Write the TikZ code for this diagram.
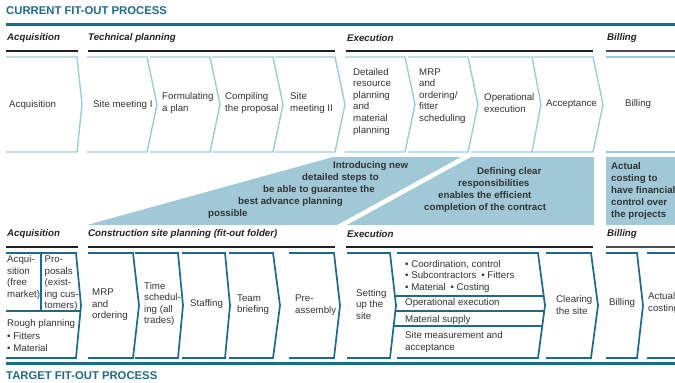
\documentclass[tikz,border=0pt]{standalone}
\usepackage{fontspec}
\setmainfont{Liberation Sans}
\definecolor{tealdark}{HTML}{1F6A87}
\definecolor{bandblue}{HTML}{A0C8D6}
\definecolor{chevlight}{HTML}{9CCCDC}
\definecolor{txtgray}{HTML}{333333}
\definecolor{hdrgray}{HTML}{222222}
\definecolor{billgray}{HTML}{4D4D4D}
\tikzset{
  txt/.style={anchor=west, inner sep=0pt, align=left, text=txtgray, font=\fontsize{9.7}{11.6}\selectfont},
  hdr/.style={anchor=west, inner sep=0pt, text=hdrgray, font=\fontsize{9.7}{11.6}\selectfont\bfseries\itshape},
  bandtxt/.style={anchor=west, inner sep=0pt, align=left, text=txtgray, font=\fontsize{9.7}{11.8}\selectfont\bfseries},
  ttl/.style={anchor=west, inner sep=0pt, text=tealdark, font=\fontsize{11.3}{13}\selectfont\bfseries},
  toprow/.style={draw=chevlight, line width=1.4pt},
  botrow/.style={draw=tealdark, line width=1.7pt},
  hdrline/.style={draw=hdrgray, line width=2pt},
  billline/.style={draw=billgray, line width=2.4pt},
  bigline/.style={draw=tealdark, line width=3pt},
  band/.style={fill=bandblue, draw=none}
}
\newcommand\topchev[3]{\draw[toprow] (#1,57) -- (#2,57) -- (#3,104.5) -- (#2,152) -- (#1,152);}
\newcommand\botchev[3]{\draw[botrow] (#1,253) -- (#2,253) -- (#3,305.5) -- (#2,358) -- (#1,358);}
\begin{document}
\begin{tikzpicture}[x=1pt, y=-1pt]
\useasboundingbox (0,0) rectangle (675,383);
% titles and thick lines
\node[ttl] (t1) at (6,11) {CURRENT FIT-OUT PROCESS};
\draw[bigline] (6,24) -- (675,24);
\node[ttl] (t2) at (6,376) {TARGET FIT-OUT PROCESS};
\draw[bigline] (6,363) -- (675,363);
% top headers
\node[hdr] (h1) at (7,38) {Acquisition};
\node[hdr] (h2) at (88,38) {Technical planning};
\node[hdr] (h3) at (347,38) {Execution};
\node[hdr] (h4) at (607,38) {Billing};
\draw[hdrline] (6,51) -- (78,51);
\draw[hdrline] (88,51) -- (335,51);
\draw[hdrline] (346,51) -- (593,51);
\draw[billline] (606,51) -- (675,51);
% top chevrons
\topchev{6}{77}{82}
\topchev{87}{147}{157}
\topchev{150}{210}{220}
\topchev{212}{273}{283}
\topchev{275}{335}{345}
\topchev{345}{405}{415}
\topchev{408}{468}{478}
\topchev{471}{532}{541}
\topchev{533}{593}{603}
\draw[toprow] (606,57) -- (675,57);
\draw[toprow] (606,152) -- (675,152);
% top texts
\node[txt] (a1) at (9,105) {Acquisition};
\node[txt] (a2) at (93,105) {Site meeting I};
\node[txt] (a3) at (162,103) {Formulating\\a plan};
\node[txt] (a4) at (225,103) {Compiling\\the proposal};
\node[txt] (a5) at (290,103) {Site\\meeting II};
\node[txt] (a6) at (353,101.5) {Detailed\\resource\\planning\\and\\material\\planning};
\node[txt] (a7) at (419,96) {MRP\\and\\ordering/\\fitter\\scheduling};
\node[txt] (a8) at (484,103) {Operational\\execution};
\node[txt] (a9) at (546,104) {Acceptance};
\node[txt] (a10) at (625,104) {Billing};
% middle band
\fill[band] (87,225) -- (333,157) -- (461,157) -- (337,225) -- cycle;
\fill[band] (347,225) -- (471,157) -- (594,157) -- (594,225) -- cycle;
\fill[band] (606,157) rectangle (675,225);
\node[bandtxt] (b1) at (208,190) {\hspace*{125pt}Introducing new\\\hspace*{94pt}detailed steps to\\\hspace*{55pt}be able to guarantee the\\\hspace*{30pt}best advance planning\\possible};
\node[bandtxt] (b2) at (424,190) {\hspace*{53pt}Defining clear\\\hspace*{34pt}responsibilities\\\hspace*{14pt}enables the efficient\\completion of the contract};
\node[bandtxt] (b3) at (611,191) {Actual\\costing to\\have financial\\control over\\the projects};
% bottom headers
\node[hdr] (g1) at (7,234) {Acquisition};
\node[hdr] (g2) at (88,234) {Construction site planning (fit-out folder)};
\node[hdr] (g3) at (347,234) {Execution};
\node[hdr] (g4) at (607,234) {Billing};
\draw[hdrline] (6,247) -- (78,247);
\draw[hdrline] (88,247) -- (335,247);
\draw[hdrline] (346,247) -- (593,247);
\draw[billline] (606,247) -- (675,247);
% bottom chevrons
\botchev{6}{76}{81}
\draw[botrow] (41,253) -- (41,311);
\draw[botrow] (6,311) -- (80.4,311);
\botchev{88}{133}{139}
\botchev{135}{178}{183}
\botchev{182}{225}{230}
\botchev{229}{273}{280}
\botchev{289}{334}{340}
\botchev{347}{390}{396}
\botchev{397}{538}{545}
\draw[botrow] (395,296) -- (543.7,296);
\draw[botrow] (395.4,311) -- (544.3,311);
\draw[botrow] (393.7,326) -- (542.3,326);
\botchev{546}{591}{598}
\botchev{606}{637}{643}
\draw[botrow] (647,253) -- (675,253);
\draw[botrow] (647,358) -- (675,358);
% bottom texts
\node[txt] (c1) at (7,277.5) {Acqui-\\sition\\(free\\market)};
\node[txt] (c2) at (44.5,283.3) {Pro-\\posals\\(exist-\\ing cus-\\tomers)};
\node[txt] (c3) at (7,335.5) {Rough planning\\[1.5pt]• Fitters\\• Material};
\node[txt] (c4) at (92,305) {MRP\\and\\ordering};
\node[txt] (c5) at (144,304) {Time\\schedul-\\ing (all\\trades)};
\node[txt] (c6) at (190,304) {Staffing};
\node[txt] (c7) at (237,304.5) {Team\\briefing};
\node[txt] (c8) at (295,305) {Pre-\\assembly};
\node[txt] (c9) at (356,304.3) {Setting\\up the\\site};
\node[txt] (c10) at (405,276.3) {• Coordination, control\\• Subcontractors\enspace• Fitters\\• Material\enspace• Costing};
\node[txt] (c11) at (405,303.3) {Operational execution};
\node[txt] (c12) at (405,319.5) {Material supply};
\node[txt] (c13) at (405,342) {Site measurement and\\acceptance};
\node[txt] (c14) at (556,305) {Clearing\\the site};
\node[txt] (c15) at (609,303) {Billing};
\node[txt] (c16) at (648,303) {Actual\\costing};
\end{tikzpicture}
\end{document}
